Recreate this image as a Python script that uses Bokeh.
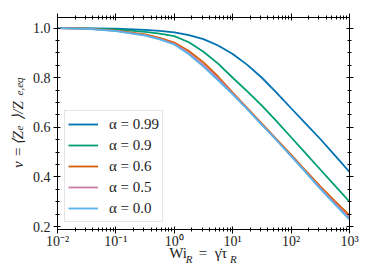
from bokeh.plotting import figure
from bokeh.models import (LogAxis, LinearAxis, FixedTicker, Legend, LegendItem,
                          Range1d, CustomJSTickFormatter)
from bokeh.embed import file_html
from bokeh.resources import INLINE

# ---- data ----
wi = [0.01, 0.0316, 0.1, 0.316, 0.562, 1.0, 1.78, 3.16, 5.62, 10.0,
      17.8, 31.6, 56.2, 100.0, 178.0, 316.0, 562.0, 1000.0]
alpha_labels = ["0.99", "0.9", "0.6", "0.5", "0.0"]
nu_a099 = [1.0, 0.9995, 0.998, 0.993, 0.989, 0.983, 0.972, 0.956, 0.93, 0.896,
           0.852, 0.80, 0.74, 0.677, 0.615, 0.553, 0.487, 0.42]
nu_a09 = [1.0, 0.999, 0.995, 0.985, 0.978, 0.968, 0.943, 0.905, 0.857, 0.80,
          0.745, 0.688, 0.625, 0.56, 0.495, 0.43, 0.365, 0.30]
nu_a06 = [1.0, 0.998, 0.99, 0.975, 0.961, 0.942, 0.908, 0.862, 0.805, 0.74,
          0.678, 0.615, 0.553, 0.49, 0.425, 0.362, 0.302, 0.245]
nu_a05 = [1.0, 0.998, 0.989, 0.972, 0.957, 0.937, 0.90, 0.852, 0.797, 0.736,
          0.674, 0.611, 0.549, 0.485, 0.42, 0.356, 0.294, 0.235]
nu_a00 = [1.0, 0.997, 0.988, 0.970, 0.955, 0.934, 0.895, 0.845, 0.79, 0.733,
          0.672, 0.61, 0.548, 0.484, 0.418, 0.352, 0.289, 0.228]
series = [nu_a099, nu_a09, nu_a06, nu_a05, nu_a00]
colors = ["#0072B2", "#009E73", "#D55E00", "#CC79A7", "#56B4E9"]

x_major = [1e-2, 1e-1, 1e0, 1e1, 1e2, 1e3]
x_minor = [m * 10.0 ** e for e in range(-2, 3) for m in range(2, 10)]
y_major = [0.2, 0.4, 0.6, 0.8, 1.0]
y_minor = [0.20, 0.25, 0.30, 0.35, 0.40, 0.45, 0.50, 0.55, 0.60, 0.65,
           0.70, 0.75, 0.80, 0.85, 0.90, 0.95, 1.00]

# axis-title pieces (text, anchor along the axis); subscripts set as smaller text
xlabel_main = ["Wi", "=", "\u03b3\u0307\u03c4"]
xlabel_main_at = [1.157, 3.10, 6.31]
xlabel_sub = ["R", "R"]
xlabel_sub_at = [1.786, 10.3]
ylabel_main = ["\u03bd", "=", "\u27e8Z", "\u27e9/Z"]
ylabel_main_at = [0.450, 0.501, 0.557, 0.668]
ylabel_sub = ["e", "e,eq"]
ylabel_sub_at = [0.597, 0.765]

SERIF = "Liberation Serif"

p = figure(frame_width=292, frame_height=212, x_axis_type="log",
           x_range=Range1d(1e-2, 1e3), y_range=Range1d(0.188, 1.043),
           output_backend="svg", toolbar_location=None,
           min_border_left=57, min_border_right=25,
           min_border_top=17, min_border_bottom=51)
p.xgrid.visible = False
p.ygrid.visible = False
p.outline_line_color = "black"
p.outline_line_width = 1
p.background_fill_color = "white"
p.border_fill_color = "white"

xt = FixedTicker(ticks=x_major, minor_ticks=x_minor)
yt = FixedTicker(ticks=y_major, minor_ticks=y_minor)

xfmt = CustomJSTickFormatter(code="""
const m = {"-2": "10\u207b\u00b2", "-1": "10\u207b\u00b9", "0": "10\u2070",
           "1": "10\u00b9", "2": "10\u00b2", "3": "10\u00b3"};
return m[String(Math.round(Math.log10(tick)))];
""")
yfmt = CustomJSTickFormatter(code="return tick.toFixed(1);")


def style(ax, labels=True):
    ax.major_tick_in = 3
    ax.major_tick_out = 4
    ax.minor_tick_in = 2
    ax.minor_tick_out = 2
    ax.major_tick_line_color = "black"
    ax.minor_tick_line_color = "black"
    ax.axis_line_color = "black"
    ax.major_label_text_font = SERIF
    if labels:
        ax.major_label_text_font_size = "14px"
        ax.major_label_text_color = "#222222"
        ax.major_label_standoff = 3
    else:
        ax.major_label_text_font_size = "1px"
        ax.major_label_text_alpha = 0.0
        ax.major_label_standoff = 0


xa = p.xaxis[0]
xa.ticker = xt
xa.formatter = xfmt
style(xa)
xa.major_label_standoff = 0
ya = p.yaxis[0]
ya.ticker = yt
ya.formatter = yfmt
style(ya)

top = LogAxis(ticker=xt, formatter=xfmt)
style(top, labels=False)
p.add_layout(top, "above")
right = LinearAxis(ticker=yt, formatter=yfmt)
style(right, labels=False)
p.add_layout(right, "right")


def title_axis(kind, texts, at, size, font_style, standoff, vertical=False):
    ax = kind(ticker=FixedTicker(ticks=at, minor_ticks=[]),
              formatter=CustomJSTickFormatter(args=dict(t=texts),
                                              code="return t[index];"))
    ax.axis_line_color = None
    ax.major_tick_line_color = None
    ax.minor_tick_line_color = None
    ax.major_tick_in = 0
    ax.major_tick_out = 0
    ax.minor_tick_in = 0
    ax.minor_tick_out = 0
    ax.major_label_text_font = SERIF
    ax.major_label_text_font_size = size
    ax.major_label_text_font_style = font_style
    ax.major_label_text_color = "#222222"
    ax.major_label_standoff = standoff
    if vertical:
        ax.major_label_orientation = "vertical"
    return ax


# x-axis title: Wi_R = gamma-dot tau_R
p.add_layout(title_axis(LogAxis, xlabel_main, xlabel_main_at, "15px", "normal", -7), "below")
p.add_layout(title_axis(LogAxis, xlabel_sub, xlabel_sub_at, "11px", "italic", -11), "below")
# y-axis title: nu = <Z_e>/Z_{e,eq}
p.add_layout(title_axis(LinearAxis, ylabel_main, ylabel_main_at, "15px", "italic", 3, True), "left")
p.add_layout(title_axis(LinearAxis, ylabel_sub, ylabel_sub_at, "11px", "italic", -18, True), "left")

renderers = []
for ys, c in zip(series, colors):
    r = p.line(wi, ys, line_color=c, line_width=1.8)
    renderers.append(r)

items = [LegendItem(label="\u03b1 = " + a, renderers=[r])
         for a, r in zip(alpha_labels, renderers)]
legend = Legend(items=items, location=(7, 7), glyph_width=30, glyph_height=20,
                label_height=20, spacing=1, padding=3, label_standoff=11,
                label_text_font=SERIF, label_text_font_size="15px",
                label_text_color="#222222",
                border_line_color="#cccccc", border_line_width=1,
                background_fill_color="white", background_fill_alpha=0.8,
                margin=0)
p.add_layout(legend)

open("out.html", "w").write(file_html(p, INLINE))
